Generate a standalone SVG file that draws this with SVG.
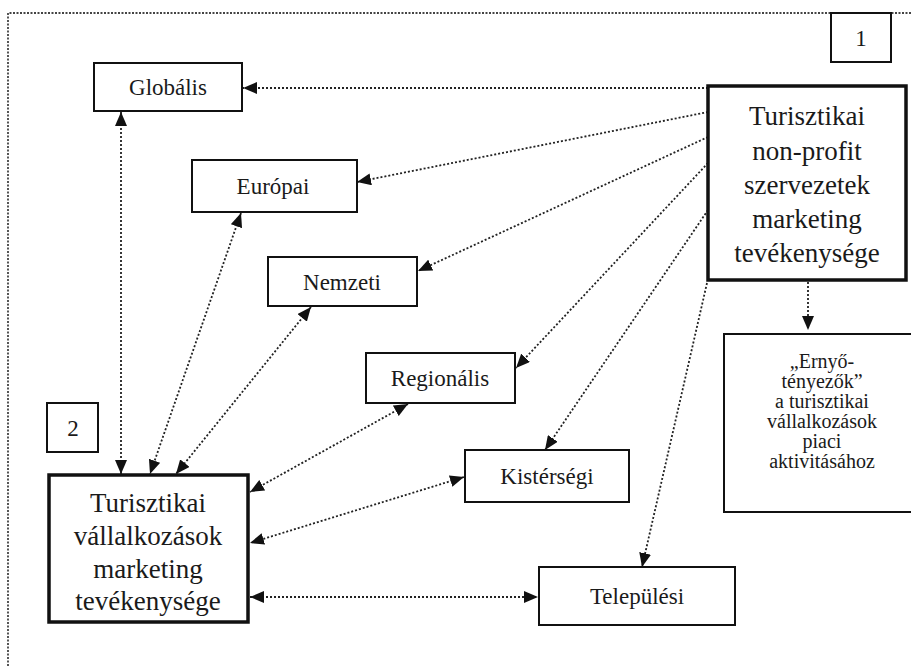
<svg xmlns="http://www.w3.org/2000/svg" width="911" height="666" viewBox="0 0 911 666">
<style>
  .box{fill:#fff;stroke:#111;stroke-width:2}
  .thick{fill:#fff;stroke:#111;stroke-width:3.5}
  .t{font-family:"Liberation Serif","Times New Roman",serif;fill:#1a1a1a;text-anchor:middle}
  .s{font-size:23px}
  .l{font-size:27px}
  .e{font-size:20px}
  .c{fill:none;stroke:#222;stroke-width:1.8;stroke-dasharray:2 2}
  .frame{fill:none;stroke:#444;stroke-width:1.8;stroke-dasharray:2 1.5}
</style>
<defs>
  <marker id="ah" viewBox="0 0 14 12" refX="14" refY="6" markerWidth="14" markerHeight="12" markerUnits="userSpaceOnUse" orient="auto-start-reverse">
    <path d="M0,0 L14,6 L0,12 z" fill="#111"/>
  </marker>
</defs>
<rect width="911" height="666" fill="#fff"/>
<path class="frame" d="M8,666 L8,13 L911,13"/>

<g id="connectors">
  <line class="c" x1="708" y1="88" x2="243" y2="88" marker-end="url(#ah)"/>
  <line class="c" x1="708" y1="112" x2="357" y2="182" marker-end="url(#ah)"/>
  <line class="c" x1="708" y1="137" x2="418" y2="271" marker-end="url(#ah)"/>
  <line class="c" x1="708" y1="163" x2="516" y2="368" marker-end="url(#ah)"/>
  <line class="c" x1="708" y1="210" x2="545" y2="450" marker-end="url(#ah)"/>
  <line class="c" x1="707" y1="283" x2="642" y2="567" marker-end="url(#ah)"/>
  <line class="c" x1="808" y1="282" x2="808" y2="330" marker-end="url(#ah)"/>
  <line class="c" x1="121" y1="112" x2="121" y2="474" marker-start="url(#ah)" marker-end="url(#ah)"/>
  <line class="c" x1="241" y1="213" x2="150" y2="474" marker-start="url(#ah)" marker-end="url(#ah)"/>
  <line class="c" x1="311" y1="307" x2="176" y2="474" marker-start="url(#ah)" marker-end="url(#ah)"/>
  <line class="c" x1="408" y1="404" x2="250" y2="492" marker-start="url(#ah)" marker-end="url(#ah)"/>
  <line class="c" x1="464" y1="477" x2="250" y2="543" marker-start="url(#ah)" marker-end="url(#ah)"/>
  <line class="c" x1="250" y1="597" x2="538" y2="597" marker-start="url(#ah)" marker-end="url(#ah)"/>
</g>

<g id="n1">
  <rect class="box" x="831" y="13" width="60" height="49"/>
  <text class="t s" x="861" y="46">1</text>
</g>
<g id="globalis">
  <rect class="box" x="94" y="63" width="148" height="48"/>
  <text class="t s" x="168" y="95">Globális</text>
</g>
<g id="europai">
  <rect class="box" x="192" y="160" width="165" height="52"/>
  <text class="t s" x="273" y="194">Európai</text>
</g>
<g id="nemzeti">
  <rect class="box" x="268" y="257" width="149" height="49"/>
  <text class="t s" x="342" y="290">Nemzeti</text>
</g>
<g id="regionalis">
  <rect class="box" x="366" y="353" width="149" height="50"/>
  <text class="t s" x="440" y="386">Regionális</text>
</g>
<g id="kistersegi">
  <rect class="box" x="465" y="450" width="164" height="52"/>
  <text class="t s" x="547" y="484">Kistérségi</text>
</g>
<g id="telepulesi">
  <rect class="box" x="539" y="567" width="196" height="58"/>
  <text class="t s" x="637" y="604">Települési</text>
</g>
<g id="nonprofit">
  <rect class="thick" x="708" y="86" width="198" height="194"/>
  <text class="t l" x="807" y="125">Turisztikai</text>
  <text class="t l" x="807" y="160">non-profit</text>
  <text class="t l" x="807" y="194">szervezetek</text>
  <text class="t l" x="807" y="228">marketing</text>
  <text class="t l" x="807" y="262">tevékenysége</text>
</g>
<g id="ernyo">
  <rect class="box" x="724" y="334" width="200" height="178" stroke-width="2.5"/>
  <text class="t e" x="822" y="368">„Ernyő-</text>
  <text class="t e" x="822" y="388">tényezők”</text>
  <text class="t e" x="822" y="408">a turisztikai</text>
  <text class="t e" x="822" y="428">vállalkozások</text>
  <text class="t e" x="822" y="448">piaci</text>
  <text class="t e" x="822" y="468">aktivitásához</text>
</g>
<g id="n2">
  <rect class="box" x="47" y="403" width="51" height="49"/>
  <text class="t s" x="73" y="436">2</text>
</g>
<g id="vallalkozasok">
  <rect class="thick" x="49" y="475" width="199" height="147"/>
  <text class="t l" x="148" y="512">Turisztikai</text>
  <text class="t l" x="148" y="545">vállalkozások</text>
  <text class="t l" x="148" y="578">marketing</text>
  <text class="t l" x="148" y="610">tevékenysége</text>
</g>
</svg>
